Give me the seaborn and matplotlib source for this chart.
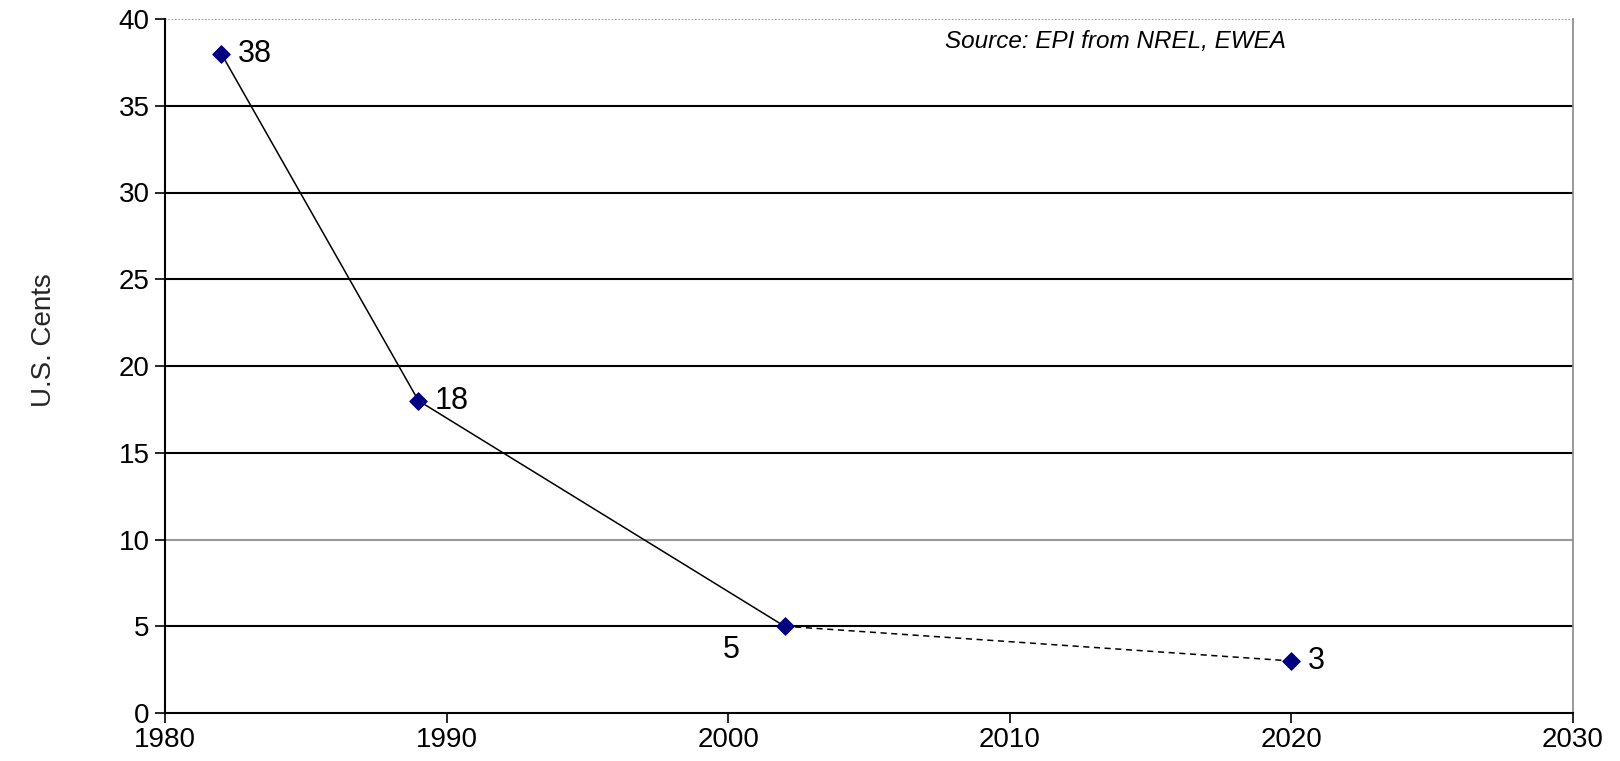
import matplotlib
matplotlib.use("Agg")
import matplotlib.pyplot as plt
import seaborn as sns
import pandas as pd

years_actual = [1982, 1989, 2002]
cents_actual = [38, 18, 5]
years_proj = [2002, 2020]
cents_proj = [5, 3]
point_years = [1982, 1989, 2002, 2020]
point_values = [38, 18, 5, 3]
y_ticks = [0, 5, 10, 15, 20, 25, 30, 35, 40]
x_ticks = [1980, 1990, 2000, 2010, 2020, 2030]

sns.set_theme(style="white")
plt.rcParams['font.family'] = ['Liberation Sans', 'DejaVu Sans']

fig = plt.figure(figsize=(16.2, 7.61), dpi=100)
ax = fig.add_axes([165/1620, 1-713/761, (1573-165)/1620, (713-19)/761])

for v in y_ticks[1:]:
    if v == 40:
        ax.axhline(v, color="#888888", lw=1.2, ls=(0, (1, 1)), zorder=1)
    elif v == 10:
        ax.axhline(v, color="#999999", lw=1.5, zorder=1)
    else:
        ax.axhline(v, color="black", lw=1.5, zorder=1)

df_a = pd.DataFrame({"year": years_actual, "cents": cents_actual})
df_p = pd.DataFrame({"year": years_proj, "cents": cents_proj})
df_pts = pd.DataFrame({"year": point_years, "cents": point_values})
sns.lineplot(data=df_a, x="year", y="cents", ax=ax, color="black", lw=1.1, zorder=3)
sns.lineplot(data=df_p, x="year", y="cents", ax=ax, color="black", lw=1.1, ls=(0, (4, 3)), zorder=3)
sns.scatterplot(data=df_pts, x="year", y="cents", ax=ax, marker="D", s=80, color="#000080",
                edgecolor="#000080", zorder=4)

offsets = {38: (12, 0, "left"), 18: (12, 0, "left"), 5: (-32, -17, "right"), 3: (12, 0, "left")}
for yr, v in zip(point_years, point_values):
    dx, dy, ha = offsets[v]
    ax.annotate(str(v), (yr, v), xytext=(dx, dy), textcoords="offset points",
                ha=ha, va="center", fontsize=22, color="black")

ax.text(2007.7, 38.7, "Source: EPI from NREL, EWEA", fontsize=17.5, style="italic",
        ha="left", va="center", color="black")

ax.set_xlim(1980, 2030)
ax.set_ylim(0, 40)
ax.set_xticks(x_ticks)
ax.set_yticks(y_ticks)
ax.tick_params(axis="both", labelsize=20, direction="out", length=7, width=1.2,
               colors="black", left=True, bottom=True)
ax.tick_params(axis="x", pad=3)
ax.tick_params(axis="y", pad=4)
ax.set_xlabel("")
ax.set_ylabel("U.S. Cents", fontsize=20)
ax.yaxis.set_label_coords(-0.077, 0.537)

for s in ["left", "bottom"]:
    ax.spines[s].set_color("black")
    ax.spines[s].set_linewidth(1.5)
ax.spines["top"].set_visible(False)
ax.spines["right"].set_color("#888888")
ax.spines["right"].set_linestyle((0, (1, 1)))
ax.spines["right"].set_linewidth(1.2)

fig.savefig("out.png", dpi=100)
